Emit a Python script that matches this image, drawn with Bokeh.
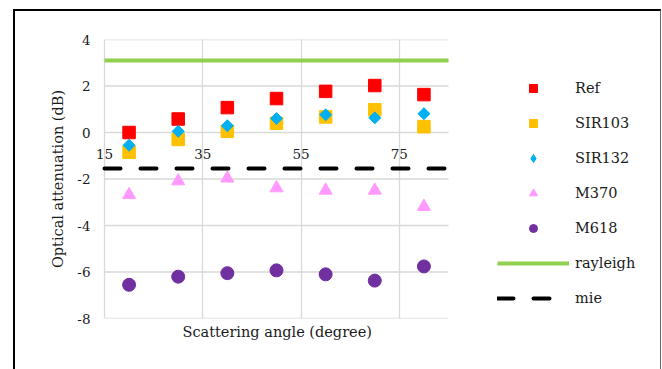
from bokeh.plotting import figure
from bokeh.layouts import column
from bokeh.models import (LinearAxis, FixedTicker, Grid, Legend, LegendItem, Title)
from bokeh.embed import file_html
from bokeh.resources import INLINE
import numpy as np

# ---- data ----
angles = [20, 30, 40, 50, 60, 70, 80]
ref = [0.0, 0.58, 1.07, 1.46, 1.77, 2.02, 1.63]
sir103 = [-0.85, -0.30, 0.05, 0.40, 0.67, 0.98, 0.25]
sir132 = [-0.55, 0.05, 0.29, 0.60, 0.76, 0.63, 0.81]
m370 = [-2.68, -2.09, -1.97, -2.39, -2.49, -2.49, -3.19]
m618 = [-6.55, -6.20, -6.05, -5.93, -6.10, -6.37, -5.76]
line_x = [15, 85]
rayleigh = [3.1, 3.1]
mie = [-1.55, -1.55]
x_min, x_max = 15, 85
x_ticks = [15, 35, 55, 75]
y_ticks = [-8, -6, -4, -2, 0, 2, 4]
y_tick_labels = ["-8", "-6", "-4", "-2", "0", "2", "4"]

FONT = "DejaVu Serif"
TXT = "#1a1a1a"
GRID = "#d9d9d9"

W, H = 645, 358
LEFT = 79           # frame left (x a bit below 15 so "15" is not clipped)
PAD = 10            # pixels between frame left and x = 15
PLOT_W = 344        # width of the 15..85 plotting area
px_per_unit = PLOT_W / (x_max - x_min)
x_start = x_min - PAD / px_per_unit
x_end = x_max + (W - LEFT - PAD - PLOT_W) / px_per_unit  # frame also holds the legend

p = figure(width=W, height=H, x_range=(x_start, x_end), y_range=(-8, 4),
           output_backend="svg", toolbar_location=None,
           x_axis_location=None, y_axis_location="left",
           min_border_left=LEFT, min_border_right=0,
           min_border_top=28, min_border_bottom=51)
p.outline_line_color = None
p.background_fill_color = "white"
p.border_fill_color = "white"
p.grid.visible = False

# grids
p.add_layout(Grid(dimension=0, ticker=FixedTicker(ticks=x_ticks),
                  grid_line_color=GRID, grid_line_width=1.3))
p.segment(x0=[x_min] * len(y_ticks), x1=[x_max] * len(y_ticks),
          y0=y_ticks, y1=y_ticks, line_color=GRID, line_width=1.3,
          level="underlay")

# y axis
ya = p.yaxis[0]
ya.ticker = FixedTicker(ticks=y_ticks)
ya.major_label_overrides = {t: s for t, s in zip(y_ticks, y_tick_labels)}
ya.axis_line_color = None
ya.major_tick_line_color = None
ya.minor_tick_line_color = None
ya.major_tick_out = 0
ya.major_tick_in = 0
ya.major_label_standoff = 4
ya.major_label_text_font = FONT
ya.major_label_text_font_size = "13.5px"
ya.major_label_text_color = TXT
ya.axis_label = "Optical attenuation (dB)"
ya.axis_label_text_font = FONT
ya.axis_label_text_font_size = "14.5px"
ya.axis_label_text_font_style = "normal"
ya.axis_label_text_color = TXT
ya.axis_label_standoff = 8

# x axis title (closest to frame), placed under the 15..85 area
p.add_layout(Title(text="Scattering angle (degree)", align="left", offset=88,
                   text_font=FONT, text_font_size="14.5px",
                   text_font_style="normal", text_color=TXT, standoff=6),
             "below")

# x tick labels, crossing at y = 0
xa = LinearAxis(ticker=FixedTicker(ticks=x_ticks), fixed_location=0,
                axis_line_color=None, major_tick_line_color=None,
                minor_tick_line_color=None, major_tick_out=0, major_tick_in=0,
                major_label_standoff=16, major_label_text_font=FONT,
                major_label_text_font_size="13.5px", major_label_text_color=TXT)
p.add_layout(xa, "below")

# series
r_ref = p.scatter(angles, ref, marker="square", size=12.5, fill_color="#ff0000",
                  line_color="#ff0000")
r_103 = p.scatter(angles, sir103, marker="square", size=12.5, fill_color="#ffc000",
                  line_color="#ffc000")
# diamond glyph used as legend key; it lies fully inside the rotated squares
r_132_key = p.scatter(angles, sir132, marker="diamond", size=10,
                      fill_color="#00b0f0", line_color="#00b0f0")
r_132 = p.scatter(angles, sir132, marker="square", angle=np.pi / 4, size=8.5,
                  fill_color="#00b0f0", line_color="#00b0f0")
r_370 = p.scatter(angles, m370, marker="triangle", size=13, fill_color="#ff99ff",
                  line_color="#ff99ff")
r_618 = p.scatter(angles, m618, marker="circle", size=13, fill_color="#7030a0",
                  line_color="#7030a0")
r_ray = p.line(line_x, rayleigh, line_color="#92d050", line_width=4)
r_mie = p.line(line_x, mie, line_color="black", line_width=4,
               line_dash="16 20", line_cap="round")

legend = Legend(items=[
    LegendItem(label="Ref", renderers=[r_ref]),
    LegendItem(label="SIR103", renderers=[r_103]),
    LegendItem(label="SIR132", renderers=[r_132_key]),
    LegendItem(label="M370", renderers=[r_370]),
    LegendItem(label="M618", renderers=[r_618]),
    LegendItem(label="rayleigh", renderers=[r_ray]),
    LegendItem(label="mie", renderers=[r_mie]),
], location=(PAD + PLOT_W + 49, 10),
    orientation="vertical", glyph_width=72,
    glyph_height=20, spacing=15, padding=0, margin=0, label_standoff=6,
    label_text_font=FONT, label_text_font_size="14.5px",
    label_text_color=TXT, border_line_color=None, background_fill_alpha=0)
p.add_layout(legend)

page = column(p, styles={"margin-left": "13px", "margin-top": "9px",
                         "box-sizing": "content-box",
                         "border-left": "2px solid black",
                         "border-top": "2px solid black",
                         "border-right": "1px solid #666666"})

open("out.html", "w").write(file_html(page, INLINE))
